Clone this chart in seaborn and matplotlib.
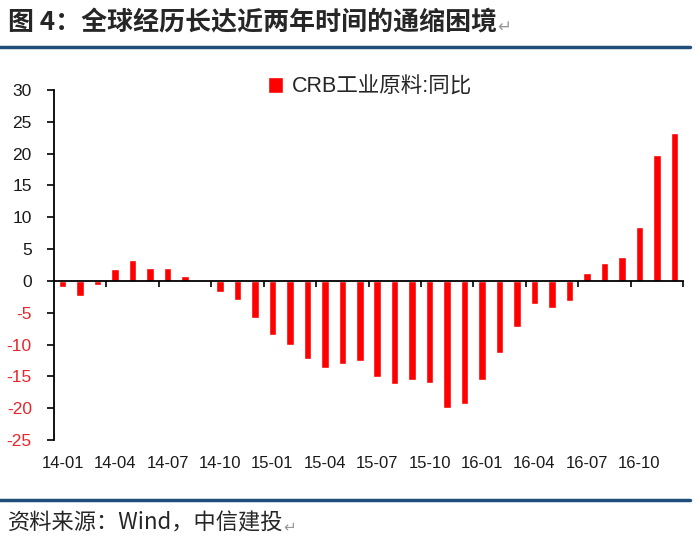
import matplotlib
matplotlib.use('Agg')
import matplotlib.pyplot as plt
import seaborn as sns
import pandas as pd
from matplotlib.transforms import blended_transform_factory
from matplotlib.lines import Line2D
from matplotlib.patches import Patch

# monthly data, 2014-01 .. 2016-12
months = ['14-01', '14-02', '14-03', '14-04', '14-05', '14-06',
          '14-07', '14-08', '14-09', '14-10', '14-11', '14-12',
          '15-01', '15-02', '15-03', '15-04', '15-05', '15-06',
          '15-07', '15-08', '15-09', '15-10', '15-11', '15-12',
          '16-01', '16-02', '16-03', '16-04', '16-05', '16-06',
          '16-07', '16-08', '16-09', '16-10', '16-11', '16-12']
crb_yoy = [-1.0, -2.3, -0.7, 1.9, 3.3, 2.0,
           2.1, 0.8, 0.0, -1.7, -3.0, -5.9,
           -8.5, -10.1, -12.3, -13.7, -13.0, -12.6,
           -15.1, -16.2, -15.5, -16.1, -20.0, -19.4,
           -15.5, -11.3, -7.3, -3.7, -4.2, -3.2,
           1.2, 2.8, 3.7, 8.5, 19.8, 23.2]
tick_labels = ['14-01', '14-04', '14-07', '14-10', '15-01', '15-04',
               '15-07', '15-10', '16-01', '16-04', '16-07', '16-10']
y_ticks = [-25, -20, -15, -10, -5, 0, 5, 10, 15, 20, 25, 30]

sns.set_style('white')
plt.rcParams['font.family'] = ['Liberation Sans', 'Noto Sans CJK SC', 'DejaVu Sans']

fig = plt.figure(figsize=(7, 5.43), dpi=100)
ax = fig.add_axes([54/700, 1 - 440/543, (683 - 54)/700, 350/543])

df = pd.DataFrame({'month': months, 'value': crb_yoy})
sns.barplot(data=df, x='month', y='value', color='#FF0000', saturation=1,
            width=0.43, errorbar=None, ax=ax)

ax.set_xlim(-0.5, len(months) - 0.5)
ax.set_ylim(-25, 30)
ax.set_xlabel('')
ax.set_ylabel('')

for s in ['top', 'right']:
    ax.spines[s].set_visible(False)
ax.spines['bottom'].set_position(('data', 0))
ax.spines['bottom'].set_color('black')
ax.spines['bottom'].set_linewidth(1.3)
ax.spines['left'].set_color('black')
ax.spines['left'].set_linewidth(1.3)

# x ticks at category boundaries every 3 months, labels drawn below the plot
ax.set_xticks([2.5 + 3 * k for k in range(len(tick_labels))])
ax.set_xticklabels([])
ax.tick_params(axis='x', bottom=True, length=4, width=1.2, color='black', direction='out')
trans = blended_transform_factory(ax.transData, ax.transAxes)
for k, lab in enumerate(tick_labels):
    ax.text(3 * k, -0.068, lab, transform=trans, ha='center', va='center',
            fontsize=12, color='#1a1a1a')

ax.set_yticks(y_ticks)
ax.set_yticklabels([str(v) for v in y_ticks])
ax.tick_params(axis='y', left=True, length=5, width=1.2, color='black', pad=11,
               labelsize=12.5)
for lab, v in zip(ax.get_yticklabels(), y_ticks):
    lab.set_color('#E8262A' if v < 0 else '#1a1a1a')

fig.legend(handles=[Patch(facecolor='#FF0000')], labels=['CRB工业原料:同比'],
           loc='center', bbox_to_anchor=(370/700, 1 - 87/543), frameon=False,
           prop={'family': ['Liberation Sans', 'Noto Sans CJK SC'], 'size': 15.5},
           handlelength=0.7, handleheight=0.7, handletextpad=0.4)

title = fig.text(8/700, 1 - 23/543, '图 4：全球经历长达近两年时间的通缩困境',
                 fontsize=18.7, fontweight='bold', va='center',
                 family=['Noto Sans CJK SC', 'DejaVu Sans'])
fig.add_artist(Line2D([0, 690/700], [1 - 47/543] * 2, color='#1F4E79', lw=2.5,
                      transform=fig.transFigure))
fig.add_artist(Line2D([0, 690/700], [1 - 500/543] * 2, color='#1F4E79', lw=2.5,
                      transform=fig.transFigure))

source = fig.text(8/700, 1 - 523/543, '资料来源：Wind，中信建投', fontsize=16,
                  va='center', family=['Noto Sans CJK SC', 'DejaVu Sans'])

# paragraph marks after title and source
for t, fs in [(title, 12), (source, 11)]:
    fig.add_artist(plt.Annotation('↵', xy=(1, 0.35), xycoords=t, fontsize=fs,
                                  color='#999999', va='center', ha='left',
                                  family='DejaVu Sans', annotation_clip=False))

fig.savefig('out.png', dpi=100)
